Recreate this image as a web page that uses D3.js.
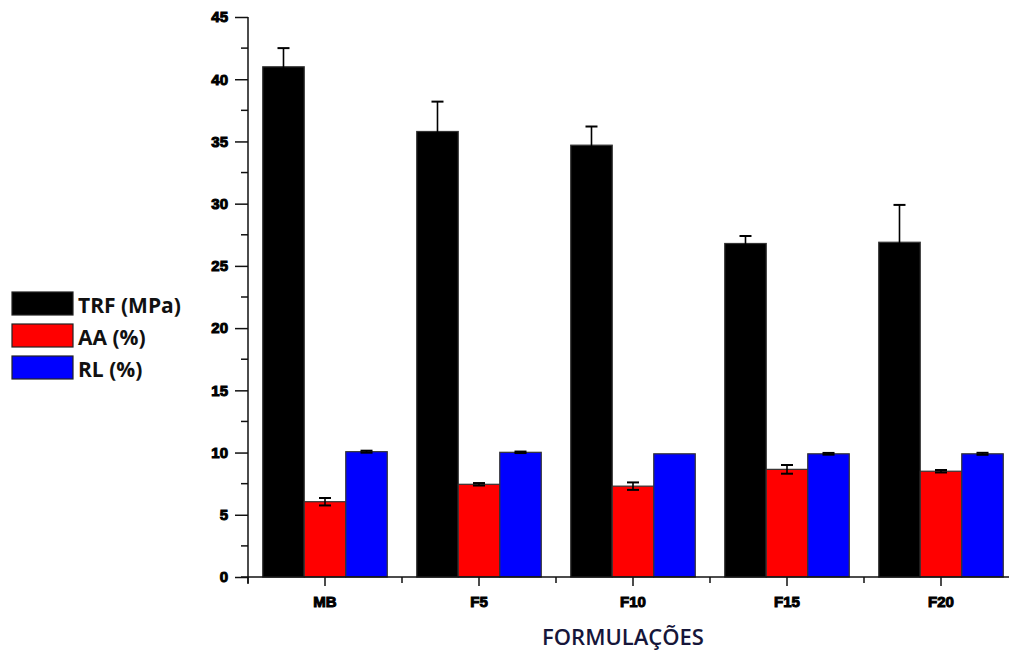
<!DOCTYPE html>
<html>
<head>
<meta charset="utf-8">
<script src="https://cdn.jsdelivr.net/npm/d3@7"></script>
<style>
  body { margin: 0; background: #fff; }
  svg { display: block; }
</style>
</head>
<body>
<div id="chart"></div>
<script>
// data
var categories = ["MB", "F5", "F10", "F15", "F20"];
var seriesNames = ["TRF (MPa)", "AA (%)", "RL (%)"];
var seriesColors = ["#000000", "#ff0000", "#0000ff"];
var trf = [41.0, 35.8, 34.7, 26.8, 26.9];
var trfErr = [1.5, 2.4, 1.5, 0.6, 3.0];
var aa = [6.05, 7.45, 7.3, 8.65, 8.5];
var aaErr = [0.3, 0.1, 0.3, 0.35, 0.1];
var rl = [10.07, 10.02, 9.9, 9.9, 9.9];
var rlErr = [0.08, 0.06, 0.0, 0.07, 0.08];
var yTicks = [0, 5, 10, 15, 20, 25, 30, 35, 40, 45];

var values = [trf, aa, rl];
var errors = [trfErr, aaErr, rlErr];

var W = 1009, H = 651;
var x0 = 248, x1 = 248 + 154 * 5, yTop = 17, yBot = 577;

var svg = d3.select("#chart").append("svg")
    .attr("width", W).attr("height", H);

var x = d3.scaleBand().domain(categories).range([x0, x1]).paddingInner(0).paddingOuter(0);
var inner = d3.scaleBand().domain(d3.range(3)).range([0, x.bandwidth()]).paddingInner(0).paddingOuter(0.355);
var y = d3.scaleLinear().domain([0, 45]).range([yBot, yTop]);

// bars
var groups = svg.selectAll("g.grp").data(categories).enter().append("g")
    .attr("transform", function (d) { return "translate(" + x(d) + ",0)"; });

values.forEach(function (arr, s) {
    groups.append("rect")
        .attr("x", inner(s))
        .attr("width", inner.bandwidth())
        .attr("y", function (d, i) { return y(arr[i]); })
        .attr("height", function (d, i) { return yBot - y(arr[i]); })
        .attr("fill", seriesColors[s])
        .attr("stroke", "#333")
        .attr("stroke-width", 1.2);
});

// error bars
values.forEach(function (arr, s) {
    groups.each(function (d, i) {
        var e = errors[s][i];
        if (e <= 0) return;
        var cx = inner(s) + inner.bandwidth() / 2;
        var g = d3.select(this);
        g.append("line").attr("x1", cx).attr("x2", cx)
            .attr("y1", y(arr[i] - e)).attr("y2", y(arr[i] + e))
            .attr("stroke", "#000").attr("stroke-width", 1.6);
        [arr[i] + e, arr[i] - e].forEach(function (v) {
            g.append("line").attr("x1", cx - 6).attr("x2", cx + 6)
                .attr("y1", y(v)).attr("y2", y(v))
                .attr("stroke", "#000").attr("stroke-width", 2);
        });
    });
});

var tickFont = function (sel) {
    sel.attr("font-family", "'Liberation Sans', Arial, sans-serif")
        .attr("font-weight", "bold").attr("font-size", 15)
        .attr("fill", "#000").attr("stroke", "#000").attr("stroke-width", 1);
};

// y axis
var yAxis = d3.axisLeft(y).tickValues(yTicks).tickSize(13).tickPadding(7);
var ya = svg.append("g").attr("transform", "translate(" + x0 + ",0)").call(yAxis);
ya.select(".domain").attr("d", "M0," + yTop + "V" + (yBot + 7)).attr("stroke", "#111").attr("stroke-width", 1.5);
ya.selectAll(".tick line").attr("stroke", "#111").attr("stroke-width", 1.5);
ya.selectAll(".tick text").call(tickFont);
// minor y ticks
svg.append("g").selectAll("line").data(d3.range(2.5, 45, 5)).enter().append("line")
    .attr("x1", x0 - 7).attr("x2", x0)
    .attr("y1", function (d) { return y(d); }).attr("y2", function (d) { return y(d); })
    .attr("stroke", "#111").attr("stroke-width", 1.5);

// x axis
var xAxis = d3.axisBottom(x).tickSize(9).tickPadding(10);
var xa = svg.append("g").attr("transform", "translate(0," + yBot + ")").call(xAxis);
xa.select(".domain").attr("d", "M" + (x0 - 7) + ",0H" + x1).attr("stroke", "#111").attr("stroke-width", 1.5);
xa.selectAll(".tick line").attr("stroke", "#111").attr("stroke-width", 1.5);
xa.selectAll(".tick text").call(tickFont);
// minor x ticks at band edges
svg.append("g").selectAll("line").data(d3.range(0, 6)).enter().append("line")
    .attr("x1", function (d) { return x0 + d * x.step(); })
    .attr("x2", function (d) { return x0 + d * x.step(); })
    .attr("y1", yBot).attr("y2", yBot + 6)
    .attr("stroke", "#111").attr("stroke-width", 1.5);

// axis title
svg.append("text")
    .attr("x", 623).attr("y", 645)
    .attr("text-anchor", "middle")
    .attr("font-family", "'Open Sans', sans-serif")
    .attr("font-weight", 600)
    .attr("font-size", 22).attr("fill", "#16163a")
    .text("FORMULAÇÕES");

// legend
var leg = svg.append("g").attr("transform", "translate(12,292)");
seriesNames.forEach(function (name, i) {
    leg.append("rect").attr("x", 0).attr("y", i * 32)
        .attr("width", 61).attr("height", 23)
        .attr("fill", seriesColors[i]).attr("stroke", "#222").attr("stroke-width", 1.2);
    leg.append("text").attr("x", 66).attr("y", i * 32 + 21)
        .attr("font-family", "'Open Sans', sans-serif")
        .attr("font-weight", "bold").attr("font-size", 21)
        .attr("fill", "#111")
        .text(name);
});
</script>
</body>
</html>
